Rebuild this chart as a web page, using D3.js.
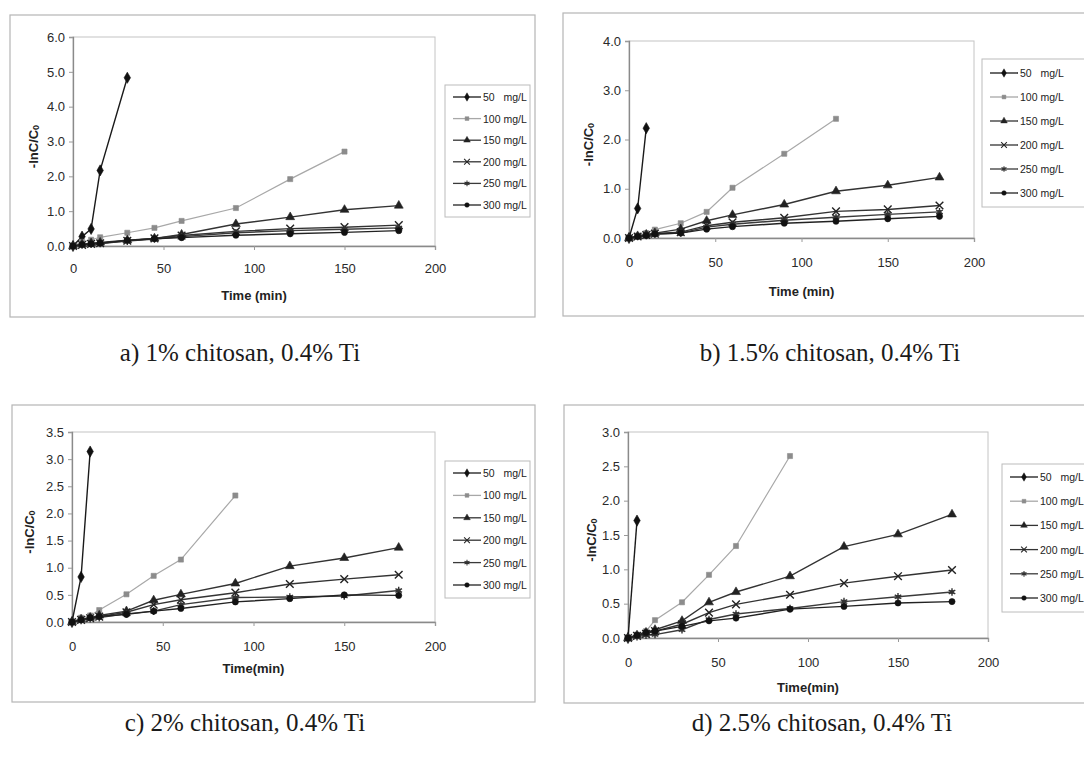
<!DOCTYPE html>
<html><head><meta charset="utf-8">
<script src="https://cdn.jsdelivr.net/npm/d3@7"></script>
<style>body{margin:0;background:#fff} svg{display:block}</style>
</head><body><svg id="c" width="1084" height="761"></svg>
<script>
// ---------- DATA ----------
const times = [0, 5, 10, 15, 30, 45, 60, 90, 120, 150, 180];
const seriesNames = ["50   mg/L", "100 mg/L", "150 mg/L", "200 mg/L", "250 mg/L", "300 mg/L"];
const xTicks = [0, 50, 100, 150, 200];
const yTicksA = [0, 1, 2, 3, 4, 5, 6];
const yTicksB = [0, 1, 2, 3, 4];
const yTicksC = [0, 0.5, 1, 1.5, 2, 2.5, 3, 3.5];
const yTicksD = [0, 0.5, 1, 1.5, 2, 2.5, 3];
const captions = ["a) 1% chitosan, 0.4% Ti", "b) 1.5% chitosan, 0.4% Ti",
                  "c) 2% chitosan, 0.4% Ti", "d) 2.5% chitosan, 0.4% Ti"];
const xTitles = ["Time (min)", "Time (min)", "Time(min)", "Time(min)"];

// panel a: 1% chitosan
const a50  = [0, 0.27, 0.49, 2.17, 4.83];
const a100 = [0, 0.12, 0.18, 0.25, 0.38, 0.52, 0.72, 1.09, 1.92, 2.71];
const a150 = [0, 0.05, 0.08, 0.10, 0.17, 0.22, 0.33, 0.63, 0.83, 1.04, 1.16];
const a200 = [0, 0.03, 0.06, 0.08, 0.15, 0.22, 0.30, 0.42, 0.50, 0.54, 0.60];
const a250 = [0, 0.03, 0.05, 0.07, 0.14, 0.20, 0.27, 0.38, 0.44, 0.48, 0.52];
const a300 = [0, 0.04, 0.06, 0.08, 0.16, 0.21, 0.24, 0.31, 0.35, 0.39, 0.44];
// panel b: 1.5% chitosan
const b50  = [0, 0.60, 2.23];
const b100 = [0, 0.05, 0.10, 0.17, 0.30, 0.53, 1.02, 1.71, 2.42];
const b150 = [0, 0.04, 0.07, 0.10, 0.18, 0.35, 0.47, 0.68, 0.95, 1.07, 1.23];
const b200 = [0, 0.03, 0.06, 0.09, 0.12, 0.25, 0.32, 0.41, 0.54, 0.58, 0.66];
const b250 = [0, 0.03, 0.05, 0.08, 0.10, 0.22, 0.28, 0.36, 0.42, 0.48, 0.53];
const b300 = [0, 0.03, 0.05, 0.08, 0.10, 0.18, 0.23, 0.30, 0.34, 0.39, 0.44];
// panel c: 2% chitosan
const c50  = [0, 0.83, 3.14];
const c100 = [0, 0.08, 0.12, 0.22, 0.51, 0.85, 1.15, 2.33];
const c150 = [0, 0.05, 0.08, 0.12, 0.20, 0.40, 0.51, 0.71, 1.03, 1.18, 1.37];
const c200 = [0, 0.04, 0.07, 0.10, 0.18, 0.32, 0.41, 0.54, 0.70, 0.79, 0.87];
const c250 = [0, 0.03, 0.06, 0.08, 0.15, 0.20, 0.32, 0.45, 0.46, 0.48, 0.58];
const c300 = [0, 0.04, 0.08, 0.10, 0.14, 0.20, 0.25, 0.37, 0.43, 0.50, 0.49];
// panel d: 2.5% chitosan
const d50  = [0, 1.71];
const d100 = [0, 0.05, 0.10, 0.26, 0.52, 0.92, 1.34, 2.65];
const d150 = [0, 0.04, 0.08, 0.12, 0.25, 0.52, 0.67, 0.90, 1.33, 1.51, 1.80];
const d200 = [0, 0.03, 0.06, 0.10, 0.20, 0.37, 0.49, 0.63, 0.80, 0.90, 0.99];
const d250 = [0, 0.02, 0.04, 0.05, 0.12, 0.27, 0.35, 0.43, 0.53, 0.60, 0.67];
const d300 = [0, 0.04, 0.08, 0.10, 0.17, 0.25, 0.29, 0.42, 0.46, 0.51, 0.53];

// ---------- LAYOUT / STYLE ----------
const panels = [
  {series:[a50,a100,a150,a200,a250,a300], yTicks:yTicksA, fmt:d3.format(".1f"),
   frame:{x:10,y:15,w:525,h:302}, plot:{l:73,t:37,r:435,b:246},
   legend:{x:445,y:85,w:85,h:132,row0:97,step:21.6}, xLabY:295, yLabX:33, xTickY:268,
   cap:{x:240,y:361}},
  {series:[b50,b100,b150,b200,b250,b300], yTicks:yTicksB, fmt:d3.format(".1f"),
   frame:{x:563,y:13,w:540,h:303}, plot:{l:629,t:41,r:974,b:238},
   legend:{x:982,y:59,w:120,h:148,row0:73,step:24}, xLabY:291, yLabX:588, xTickY:262,
   cap:{x:830,y:361}},
  {series:[c50,c100,c150,c200,c250,c300], yTicks:yTicksC, fmt:d3.format(".1f"),
   frame:{x:12,y:405,w:523,h:297}, plot:{l:72,t:432,r:435,b:622},
   legend:{x:445,y:461,w:85,h:137,row0:473,step:22.4}, xLabY:668, yLabX:29, xTickY:646,
   cap:{x:245,y:731}},
  {series:[d50,d100,d150,d200,d250,d300], yTicks:yTicksD, fmt:d3.format(".1f"),
   frame:{x:564,y:405,w:540,h:298}, plot:{l:628,t:432,r:988,b:638},
   legend:{x:1002,y:464,w:110,h:148,row0:477,step:24.2}, xLabY:687, yLabX:591, xTickY:662,
   cap:{x:822,y:731}}
];

const styles = [
  {sym:"diamond",  fill:"#111", stroke:"#111", line:"#1a1a1a"},
  {sym:"square",   fill:"#8c8c8c", stroke:"#8c8c8c", line:"#a8a8a8"},
  {sym:"triangle", fill:"#222", stroke:"#222", line:"#333"},
  {sym:"times",    fill:"none", stroke:"#222", line:"#333"},
  {sym:"asterisk", fill:"none", stroke:"#333", line:"#3a3a3a"},
  {sym:"circle",   fill:"#111", stroke:"#111", line:"#222"}
];

const symGen = {
  diamond: d3.symbol(d3.symbolDiamond, 36),
  square: d3.symbol(d3.symbolSquare, 26),
  triangle: d3.symbol(d3.symbolTriangle, 34),
  times: d3.symbol(d3.symbolTimes, 40),
  asterisk: d3.symbol(d3.symbolAsterisk, 40),
  circle: d3.symbol(d3.symbolCircle, 30)
};

const svg = d3.select("#c");
const FONT = "'Liberation Sans', Arial, sans-serif";

function drawMarker(g, st, x, y) {
  g.append("path").attr("d", symGen[st.sym]()).attr("transform", `translate(${x},${y})`)
    .attr("fill", st.fill).attr("stroke", st.stroke)
    .attr("stroke-width", st.fill === "none" ? 1.4 : 0.6);
  if (st.sym === "asterisk") {
    g.append("rect").attr("x", x - 1.8).attr("y", y - 1.8).attr("width", 3.6).attr("height", 3.6).attr("fill", st.stroke);
  }
}

panels.forEach((p, pi) => {
  const g = svg.append("g");
  // outer frame
  g.append("rect").attr("x", p.frame.x).attr("y", p.frame.y).attr("width", p.frame.w).attr("height", p.frame.h)
    .attr("fill", "#fff").attr("stroke", "#b5b5b5").attr("stroke-width", 1.2);

  const x = d3.scaleLinear().domain([0, 200]).range([p.plot.l, p.plot.r]);
  const yMax = p.yTicks[p.yTicks.length - 1];
  const y = d3.scaleLinear().domain([0, yMax]).range([p.plot.b, p.plot.t]);

  // plot area border
  g.append("rect").attr("x", p.plot.l).attr("y", p.plot.t)
    .attr("width", p.plot.r - p.plot.l).attr("height", p.plot.b - p.plot.t)
    .attr("fill", "none").attr("stroke", "#c4c4c4").attr("stroke-width", 1);

  // axes
  const xAxis = d3.axisBottom(x).tickValues(xTicks).tickSize(4).tickPadding(7).tickFormat(d3.format("d"));
  const ax = g.append("g").attr("transform", `translate(0,${p.plot.b})`).call(xAxis);
  ax.select(".domain").attr("stroke", "#8a8a8a").attr("stroke-width", 1.3);
  ax.selectAll(".tick line").attr("stroke", "#9a9a9a");
  ax.selectAll("text").attr("font-family", FONT).attr("font-size", 13).attr("fill", "#2a2a2a")
    .attr("y", null).attr("dy", null).attr("dominant-baseline", "central")
    .attr("transform", `translate(0,${p.xTickY - p.plot.b})`);

  const yAxis = d3.axisLeft(y).tickValues(p.yTicks).tickSize(4).tickPadding(4).tickFormat(p.fmt);
  const ay = g.append("g").attr("transform", `translate(${p.plot.l},0)`).call(yAxis);
  ay.select(".domain").attr("stroke", "#8a8a8a").attr("stroke-width", 1.3);
  ay.selectAll(".tick line").attr("stroke", "#9a9a9a");
  ay.selectAll("text").attr("font-family", FONT).attr("font-size", 13).attr("fill", "#2a2a2a");

  // axis titles
  g.append("text").attr("x", (p.plot.l + p.plot.r) / 2).attr("y", p.xLabY)
    .attr("text-anchor", "middle").attr("dominant-baseline", "central")
    .attr("font-family", FONT).attr("font-size", 13).attr("font-weight", "bold").attr("fill", "#222")
    .text(xTitles[pi]);
  const yl = g.append("text")
    .attr("transform", `translate(${p.yLabX},${(p.plot.t + p.plot.b) / 2 + 5}) rotate(-90)`)
    .attr("text-anchor", "middle").attr("dominant-baseline", "central")
    .attr("font-family", FONT).attr("font-size", 13).attr("font-weight", "bold").attr("fill", "#222");
  yl.append("tspan").text("-lnC/C");
  yl.append("tspan").attr("font-size", 9).attr("dy", 3).text("0");

  // series
  const line = d3.line().x(d => x(d[0])).y(d => y(d[1]));
  p.series.forEach((vals, si) => {
    const pts = vals.map((v, i) => [times[i], v]);
    const st = styles[si];
    g.append("path").datum(pts).attr("d", line).attr("fill", "none")
      .attr("stroke", st.line).attr("stroke-width", si === 1 ? 1.2 : 1.4);
  });
  p.series.forEach((vals, si) => {
    const st = styles[si];
    vals.forEach((v, i) => drawMarker(g, st, x(times[i]), y(v)));
  });

  // legend
  const L = p.legend;
  g.append("rect").attr("x", L.x).attr("y", L.y).attr("width", L.w).attr("height", L.h)
    .attr("fill", "#fff").attr("stroke", "#bcbcbc").attr("stroke-width", 1);
  seriesNames.forEach((name, si) => {
    const st = styles[si];
    const ry = L.row0 + si * L.step;
    g.append("line").attr("x1", L.x + 8).attr("x2", L.x + 36).attr("y1", ry).attr("y2", ry)
      .attr("stroke", st.line).attr("stroke-width", 1.3);
    const lg = g.append("g");
    drawMarker(lg, st, L.x + 22, ry);
    lg.attr("transform", `translate(${(L.x + 22) * 0.25},${ry * 0.25}) scale(0.75)`);
    g.append("text").attr("x", L.x + 38).attr("y", ry).attr("dominant-baseline", "central")
      .attr("font-family", FONT).attr("font-size", 10.5).attr("fill", "#222")
      .style("white-space", "pre").attr("xml:space", "preserve").text(name);
  });

  // caption
  svg.append("text").attr("x", p.cap.x).attr("y", p.cap.y).attr("text-anchor", "middle")
    .attr("font-family", "'Liberation Serif', 'Times New Roman', serif").attr("font-size", 25)
    .attr("fill", "#1a1a1a").text(captions[pi]);
});
</script>
</body></html>
